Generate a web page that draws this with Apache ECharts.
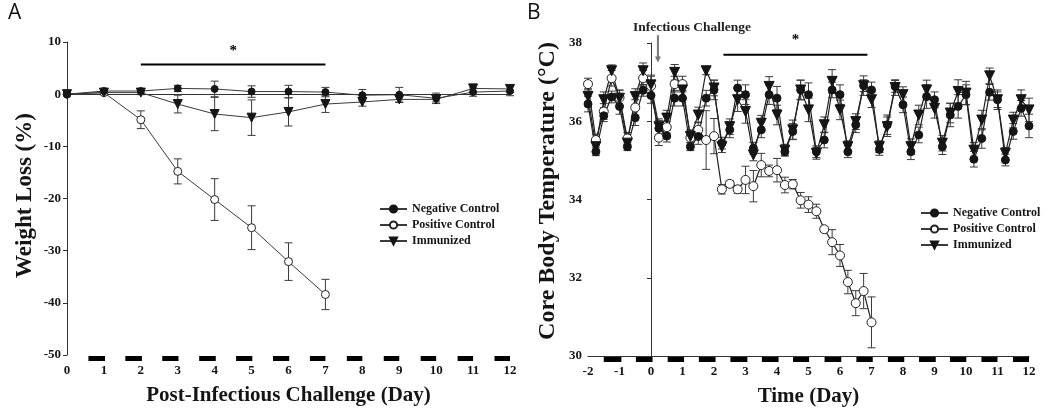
<!DOCTYPE html>
<html>
<head>
<meta charset="utf-8">
<title>Weight loss and core body temperature</title>
<script src="https://cdn.jsdelivr.net/npm/echarts@6/dist/echarts.min.js"></script>
<style>
  html, body { margin: 0; padding: 0; background: #fff; }
  #chart { width: 1050px; height: 412px; }
</style>
</head>
<body>
<div id="chart"></div>
<script>
// ---- panel A : weight loss, daily ----
var daysA = [0, 1, 2, 3, 4, 5, 6, 7, 8, 9, 10, 11, 12];
var negA = [0, 0.6, 0.6, 1.1, 1.0, 0.5, 0.5, 0.4, -0.2, -0.1, -0.8, 0.4, 0.6];
var negAErr = [0, 0.4, 0.4, 0.6, 1.5, 1.1, 1.2, 0.9, 1.1, 1.4, 1.0, 0.8, 0.9];
var posA = [0, 0.3, -4.9, -14.8, -20.2, -25.6, -32.1, -38.4];
var posAErr = [0, 0.3, 1.7, 2.4, 4.0, 4.2, 3.6, 2.9];
var immA = [0, 0.3, 0.3, -1.9, -3.8, -4.5, -3.4, -1.9, -1.5, -1.0, -1.0, 1.1, 1.0];
var immAErr = [0, 0.3, 0.4, 1.7, 3.2, 3.4, 2.7, 1.6, 0.8, 0.6, 0.5, 0.8, 0.7];
var darkStartA = [0.58, 1.58, 2.58, 3.58, 4.58, 5.58, 6.58, 7.58, 8.58, 9.58, 10.58, 11.58];
var darkEndA = [1.03, 2.03, 3.02, 4.03, 5.02, 6.02, 7.0, 8.0, 9.0, 10.0, 11.0, 12.0];

// ---- panel B : core body temperature, every 6 h ----
var timesB = [-2, -1.75, -1.5, -1.25, -1, -0.75, -0.5, -0.25, 0, 0.25, 0.5, 0.75,
  1, 1.25, 1.5, 1.75, 2, 2.25, 2.5, 2.75, 3, 3.25, 3.5, 3.75, 4, 4.25, 4.5, 4.75,
  5, 5.25, 5.5, 5.75, 6, 6.25, 6.5, 6.75, 7, 7.25, 7.5, 7.75, 8, 8.25, 8.5, 8.75,
  9, 9.25, 9.5, 9.75, 10, 10.25, 10.5, 10.75, 11, 11.25, 11.5, 11.75, 12];
var negB = [36.44, 35.22, 36.14, 36.62, 36.38, 35.35, 36.09, 36.79, 36.66, 35.82, 35.62, 36.59,
  36.59, 35.35, 35.61, 36.59, 36.80, 35.44, 35.78, 36.85, 36.68, 35.31, 35.78, 36.68,
  36.59, 35.22, 35.74, 36.80, 36.68, 35.22, 35.52, 36.80, 36.68, 35.22, 35.91, 36.91,
  36.80, 35.28, 35.91, 36.89, 36.42, 35.22, 35.65, 36.63, 36.55, 35.35, 36.16, 36.38,
  36.68, 35.03, 35.56, 36.74, 36.55, 35.01, 35.74, 36.33, 35.88];
var negBErr = [0.2, 0.1, 0.15, 0.15, 0.2, 0.1, 0.2, 0.15, 0.2, 0.2, 0.15, 0.2,
  0.2, 0.1, 0.2, 0.2, 0.25, 0.15, 0.2, 0.2, 0.25, 0.15, 0.2, 0.25,
  0.3, 0.1, 0.2, 0.25, 0.3, 0.15, 0.2, 0.2, 0.25, 0.15, 0.2, 0.15,
  0.2, 0.15, 0.25, 0.15, 0.2, 0.2, 0.2, 0.3, 0.2, 0.2, 0.3, 0.3,
  0.25, 0.2, 0.25, 0.2, 0.2, 0.15, 0.2, 0.2, 0.3];
var posB = [36.95, 35.52, 36.25, 37.1, 36.6, 35.56, 36.35, 37.1, 36.9, 35.58, 35.85, 36.95,
  36.95, 35.58, 35.78, 35.52, 35.62, 34.26, 34.4, 34.26, 34.5, 34.34, 34.88, 34.73,
  34.75, 34.37, 34.39, 33.98, 33.87, 33.7, 33.24, 32.91, 32.57, 31.89, 31.35, 31.66, 30.86];
var posBErr = [0.15, 0.15, 0.2, 0.2, 0.2, 0.15, 0.2, 0.2, 0.25, 0.2, 0.15, 0.2,
  0.2, 0.2, 0.2, 0.75, 0.45, 0.12, 0.08, 0.1, 0.35, 0.4, 0.3, 0.15,
  0.3, 0.2, 0.12, 0.2, 0.2, 0.18, 0.07, 0.32, 0.28, 0.3, 0.32, 0.45, 0.65];
var immB = [36.63, 35.35, 36.55, 37.29, 36.59, 35.44, 36.63, 37.29, 36.93, 35.86, 36.08, 37.25,
  36.80, 35.61, 36.16, 37.29, 36.85, 35.35, 35.86, 36.55, 36.25, 35.14, 35.95, 36.89,
  36.16, 35.26, 35.78, 36.80, 36.29, 35.18, 35.91, 37.02, 36.29, 35.35, 35.99, 36.91,
  36.55, 35.35, 35.86, 36.86, 36.68, 35.35, 36.16, 36.80, 36.33, 35.44, 36.21, 36.76,
  36.72, 35.26, 36.03, 37.16, 36.55, 35.18, 36.03, 36.55, 36.29];
var immBErr = [0.2, 0.1, 0.2, 0.15, 0.2, 0.1, 0.2, 0.2, 0.25, 0.2, 0.2, 0.2,
  0.2, 0.15, 0.2, 0.1, 0.2, 0.15, 0.2, 0.3, 0.3, 0.15, 0.2, 0.25,
  0.25, 0.15, 0.25, 0.25, 0.3, 0.15, 0.2, 0.3, 0.25, 0.15, 0.2, 0.25,
  0.2, 0.15, 0.25, 0.2, 0.2, 0.2, 0.25, 0.25, 0.25, 0.2, 0.25, 0.3,
  0.3, 0.2, 0.25, 0.2, 0.25, 0.15, 0.2, 0.25, 0.3];
var darkStartB = [-1.5, -0.48, 0.53, 1.52, 2.52, 3.52, 4.51, 5.51, 6.52, 7.52, 8.51, 9.49, 10.49, 11.49];
var darkEndB = [-0.94, 0.05, 1.05, 2.05, 3.06, 4.05, 5.02, 6.04, 7.04, 8.04, 9.04, 10.01, 11.0, 12.0];

var names = ['Negative Control', 'Positive Control', 'Immunized'];
var serif = 'Liberation Serif';
var ink = '#151515';

function pairs(xs, ys) {
    var out = [];
    for (var i = 0; i < ys.length; i++) out.push([xs[i], ys[i]]);
    return out;
}

function lineSeries(name, idx, xs, ys, kind, big) {
    var s = {
        name: name, type: 'line', xAxisIndex: idx, yAxisIndex: idx,
        data: pairs(xs, ys), symbolSize: big ? 9 : 8, z: 3,
        lineStyle: { color: idx == 1 ? '#222' : '#3a3a3a', width: idx == 1 ? 1.2 : 1 },
        itemStyle: { color: ink, borderColor: ink, borderWidth: 1 },
        animation: false
    };
    if (kind == 'open') {
        s.symbol = 'circle';
        s.itemStyle = { color: '#fff', borderColor: '#222', borderWidth: 1 };
    } else if (kind == 'tri') {
        s.symbol = 'triangle';
        s.symbolRotate = 180;
        s.symbolSize = big ? 10 : 9;
    } else {
        s.symbol = 'circle';
        s.symbolSize = big ? 8 : 7;
    }
    return s;
}

function errSeries(idx, xs, ys, es) {
    var d = [];
    for (var i = 0; i < ys.length; i++) d.push([xs[i], ys[i] - es[i], ys[i] + es[i]]);
    return {
        type: 'custom', xAxisIndex: idx, yAxisIndex: idx, silent: true, z: 2,
        data: d, animation: false,
        renderItem: function (params, api) {
            var lo = api.coord([api.value(0), api.value(1)]);
            var hi = api.coord([api.value(0), api.value(2)]);
            var w = 4, st = { stroke: '#3a3a3a', lineWidth: 1 };
            return { type: 'group', children: [
                { type: 'line', shape: { x1: lo[0], y1: lo[1], x2: hi[0], y2: hi[1] }, style: st },
                { type: 'line', shape: { x1: lo[0] - w, y1: lo[1], x2: lo[0] + w, y2: lo[1] }, style: st },
                { type: 'line', shape: { x1: hi[0] - w, y1: hi[1], x2: hi[0] + w, y2: hi[1] }, style: st }
            ]};
        }
    };
}

// black bars under the x axis (dark phase)
function darkSeries(idx, starts, ends, ymin) {
    var d = [];
    for (var i = 0; i < starts.length; i++) d.push([starts[i], ends[i], ymin]);
    return {
        type: 'custom', xAxisIndex: idx, yAxisIndex: idx, silent: true, clip: false,
        data: d, animation: false, z: 5,
        renderItem: function (params, api) {
            var a = api.coord([api.value(0), api.value(2)]);
            var b = api.coord([api.value(1), api.value(2)]);
            return { type: 'rect', shape: { x: a[0], y: a[1] + 1, width: b[0] - a[0], height: 5 },
                style: { fill: '#000' } };
        }
    };
}

// significance bar with star
function sigSeries(idx, x1, x2, y, starY) {
    return {
        type: 'custom', xAxisIndex: idx, yAxisIndex: idx, silent: true, clip: false,
        data: [[x1, x2, y, starY]], animation: false,
        renderItem: function (params, api) {
            var a = api.coord([api.value(0), api.value(2)]);
            var b = api.coord([api.value(1), api.value(2)]);
            var s = api.coord([(api.value(0) + api.value(1)) / 2, api.value(3)]);
            return { type: 'group', children: [
                { type: 'line', shape: { x1: a[0], y1: a[1], x2: b[0], y2: b[1] }, style: { stroke: '#000', lineWidth: 2 } },
                { type: 'text', x: s[0], y: s[1], style: { text: '*', fill: '#000', font: 'bold 15px ' + serif, align: 'center', verticalAlign: 'middle' } }
            ]};
        }
    };
}

var challenge = {
    type: 'custom', xAxisIndex: 1, yAxisIndex: 1, silent: true, clip: false,
    data: [[0.22, 38.2, 37.5, 1.3, 38.39]], animation: false,
    renderItem: function (params, api) {
        var top = api.coord([api.value(0), api.value(1)]);
        var bot = api.coord([api.value(0), api.value(2)]);
        var t = api.coord([api.value(3), api.value(4)]);
        return { type: 'group', children: [
            { type: 'line', shape: { x1: top[0], y1: top[1], x2: bot[0], y2: bot[1] - 4 }, style: { stroke: '#777', lineWidth: 2 } },
            { type: 'polygon', shape: { points: [[bot[0] - 3, bot[1] - 6], [bot[0] + 3, bot[1] - 6], [bot[0], bot[1]]] }, style: { fill: '#777' } },
            { type: 'text', x: t[0], y: t[1], style: { text: 'Infectious Challenge', fill: '#222', font: 'bold 13.5px ' + serif, align: 'center', verticalAlign: 'middle' } }
        ]};
    }
};

var tickLabel = { color: ink, fontFamily: serif, fontWeight: 'bold', fontSize: 13 };
var axisTitle = { color: ink, fontFamily: serif, fontWeight: 'bold', fontSize: 21 };
var axisLine = { show: true, lineStyle: { color: '#333', width: 1 } };
var legendText = { color: ink, fontFamily: serif, fontWeight: 'bold', fontSize: 12 };

var chart = echarts.init(document.getElementById('chart'), null, { renderer: 'canvas' });
chart.setOption({
    animation: false,
    backgroundColor: '#fff',
    grid: [
        { left: 67, top: 42, width: 443, height: 313 },
        { left: 588, top: 43, width: 441, height: 313 }
    ],
    xAxis: [
        { type: 'value', gridIndex: 0, min: 0, max: 12, interval: 1,
          axisLine: axisLine, axisTick: { show: false }, splitLine: { show: false },
          axisLabel: Object.assign({ margin: 9 }, tickLabel),
          name: 'Post-Infectious Challenge (Day)', nameLocation: 'middle', nameGap: 30, nameTextStyle: axisTitle },
        { type: 'value', gridIndex: 1, min: -2, max: 12, interval: 1,
          axisLine: axisLine, axisTick: { show: false }, splitLine: { show: false },
          axisLabel: Object.assign({ margin: 9 }, tickLabel),
          name: 'Time (Day)', nameLocation: 'middle', nameGap: 30, nameTextStyle: axisTitle }
    ],
    yAxis: [
        { type: 'value', gridIndex: 0, min: -50, max: 10, interval: 10,
          axisLine: axisLine, axisTick: { show: true, length: 4, lineStyle: { color: '#333' } }, splitLine: { show: false },
          axisLabel: Object.assign({ margin: 6 }, tickLabel),
          name: 'Weight Loss (%)', nameLocation: 'middle', nameGap: 30,
          nameTextStyle: Object.assign({}, axisTitle, { fontSize: 23, padding: [0, 0, 0, 6] }) },
        { type: 'value', gridIndex: 1, min: 30, max: 38, interval: 2,
          axisLine: axisLine, axisTick: { show: true, length: 4, lineStyle: { color: '#333' } }, splitLine: { show: false },
          axisLabel: Object.assign({ margin: 6 }, tickLabel),
          name: 'Core Body Temperature (°C)', nameLocation: 'middle', nameGap: 28,
          nameTextStyle: Object.assign({}, axisTitle, { fontSize: 24, padding: [0, 0, 0, 17] }) }
    ],
    legend: [
        { orient: 'vertical', left: 374, top: 198, itemWidth: 27, itemHeight: 9, itemGap: 4,
          data: names, selectedMode: false, textStyle: legendText },
        { orient: 'vertical', left: 915, top: 202, itemWidth: 27, itemHeight: 9, itemGap: 4,
          data: names, selectedMode: false, textStyle: legendText }
    ],
    graphic: [
        { type: 'text', left: 8, top: 3, style: { text: 'A', font: '21px "Open Sans"', fill: '#111' } },
        { type: 'text', left: 527, top: 3, style: { text: 'B', font: '21px "Open Sans"', fill: '#111' } }
    ],
    series: [
        errSeries(0, daysA, posA, posAErr),
        errSeries(0, daysA, immA, immAErr),
        errSeries(0, daysA, negA, negAErr),
        lineSeries(names[1], 0, daysA, posA, 'open'),
        lineSeries(names[2], 0, daysA, immA, 'tri'),
        lineSeries(names[0], 0, daysA, negA, 'filled'),
        darkSeries(0, darkStartA, darkEndA, -50),
        sigSeries(0, 2, 7, 5.7, 8.2),

        errSeries(1, timesB, posB, posBErr),
        errSeries(1, timesB, immB, immBErr),
        errSeries(1, timesB, negB, negBErr),
        lineSeries(names[1], 1, timesB, posB, 'open', true),
        lineSeries(names[2], 1, timesB, immB, 'tri', true),
        lineSeries(names[0], 1, timesB, negB, 'filled', true),
        darkSeries(1, darkStartB, darkEndB, 30),
        sigSeries(1, 2.3, 6.87, 37.7, 38.08),
        challenge
    ]
});
</script>
</body>
</html>
